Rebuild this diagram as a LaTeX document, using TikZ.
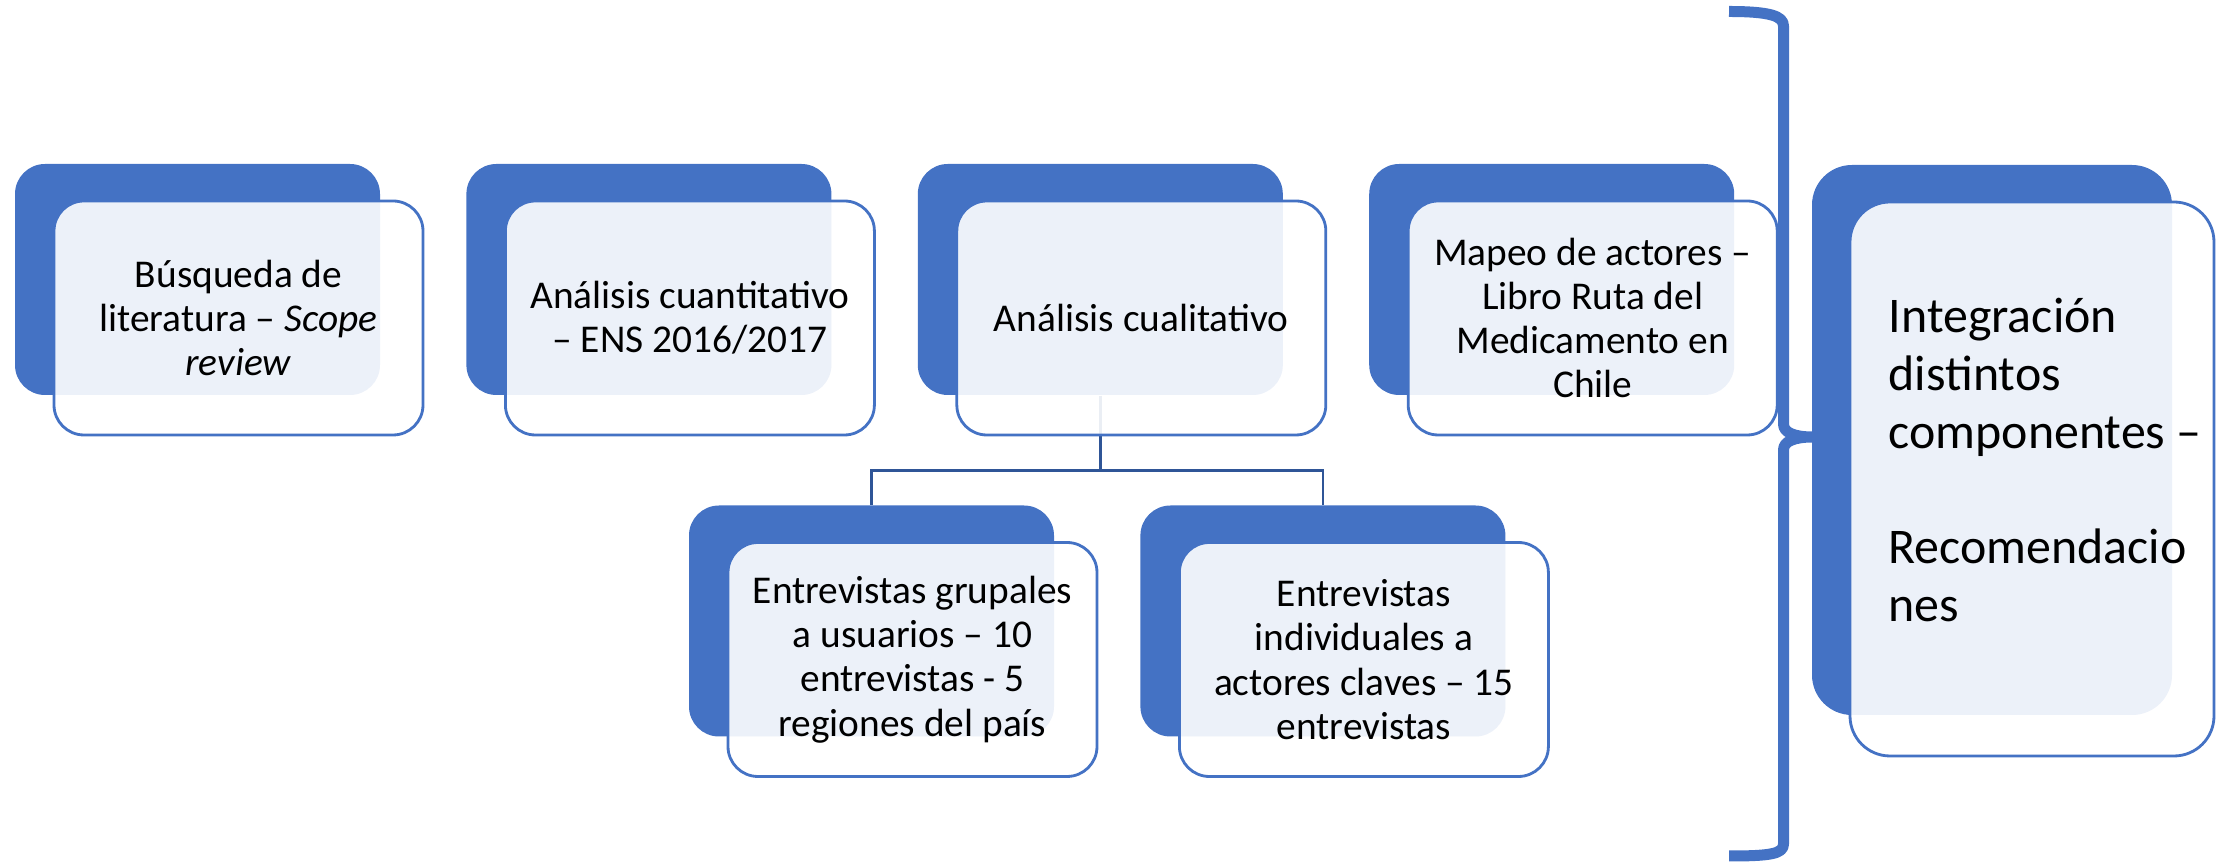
\documentclass[tikz,border=0pt]{standalone}
\usepackage{fontspec}
\setmainfont{Carlito}
\usepackage{xcolor}
\usetikzlibrary{positioning}
\definecolor{boxblue}{HTML}{4472C4}
\definecolor{linkblue}{HTML}{2F5597}
\tikzset{
    back/.style={fill=boxblue, draw=none, rounded corners=0.3cm, minimum width=3.65cm, minimum height=2.31cm}, % dark card behind
    front/.style={fill=white, fill opacity=0.9, text opacity=1, draw=boxblue, line width=0.8pt, rounded corners=0.3cm,
        minimum width=3.69cm, minimum height=2.34cm, align=center, font=\fontsize{11.2}{12.6}\selectfont}, % light card on top
    link/.style={draw=linkblue, line width=0.8pt}, % tree lines
}

\begin{document}
\begin{tikzpicture}
    \useasboundingbox (0,0) rectangle (22.33,8.66);

    % dark cards
    \node[back] (lit) at (1.975,5.865) {};
    \node[back] (cuan) [right=0.85cm of lit] {};
    \node[back] (qual) [right=0.85cm of cuan] {};
    \node[back] (mapeo) [right=0.85cm of qual] {};
    \node[back] (grp) at (8.715,2.45) {};
    \node[back] (ind) [right=0.85cm of grp] {};
    \node[back, minimum width=3.6cm, minimum height=5.5cm, rounded corners=0.4cm] (integ) at (19.92,4.26) {};

    % tree lines
    \draw[link] (qual.south) -- ++(0,-0.75) coordinate (fork) -| (grp.north);
    \draw[link] (fork) -| (ind.north);

    % brace
    \draw[boxblue, line width=0.11cm, line join=round]
        (17.29,8.545) .. controls (17.70,8.545) and (17.835,8.50) .. (17.835,8.40)
        -- (17.835,4.42) .. controls (17.835,4.33) and (17.95,4.29) .. (18.13,4.29)
        .. controls (17.95,4.29) and (17.835,4.25) .. (17.835,4.16)
        -- (17.835,0.22) .. controls (17.835,0.12) and (17.70,0.10) .. (17.29,0.10);

    % light cards
    \node[front] (litF) at ([shift={(0.41,-0.385)}]lit.center) {Búsqueda de\\literatura – \textit{Scope}\\\textit{review}};
    \node[front] (cuanF) at ([shift={(0.41,-0.385)}]cuan.center) {Análisis cuantitativo\\– ENS 2016/2017};
    \node[front] (qualF) at ([shift={(0.41,-0.385)}]qual.center) {Análisis cualitativo};
    \node[front] (mapeoF) at ([shift={(0.41,-0.385)}]mapeo.center) {Mapeo de actores –\\Libro Ruta del\\Medicamento en\\Chile};
    \node[front] (grpF) at ([shift={(0.41,-0.385)}]grp.center) {Entrevistas grupales\\a usuarios – 10\\entrevistas - 5\\regiones del país};
    \node[front] (indF) at ([shift={(0.41,-0.385)}]ind.center) {Entrevistas\\individuales a\\actores claves – 15\\entrevistas};
    \node[front, minimum width=3.64cm, minimum height=5.54cm, rounded corners=0.4cm] (integF) at ([shift={(0.40,-0.39)}]integ.center) {};
    \node[anchor=north west, align=left, inner sep=0pt, font=\fontsize{14.2}{16.5}\selectfont] (integT) at (18.88,5.69)
        {Integración\\distintos\\componentes –\\[16.5pt]Recomendacio\\nes};
\end{tikzpicture}
\end{document}
